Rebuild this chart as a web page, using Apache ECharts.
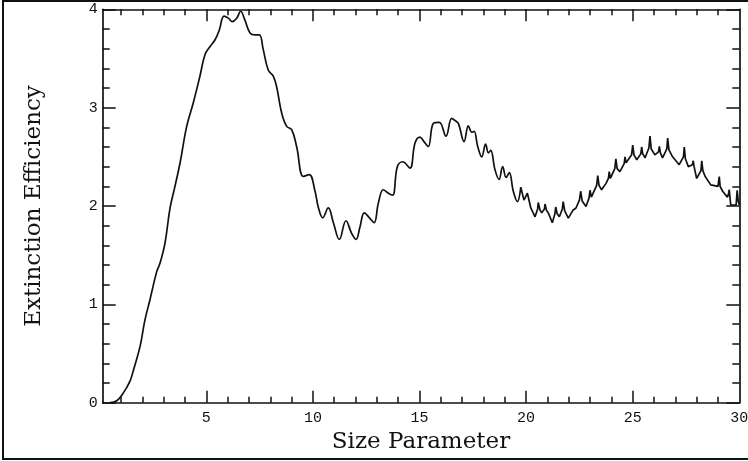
<!DOCTYPE html>
<html>
<head>
<meta charset="utf-8">
<script src="https://cdn.jsdelivr.net/npm/echarts@6/dist/echarts.min.js"></script>
<style>
  html, body { margin: 0; padding: 0; background: #fff; }
  #chart { width: 748px; height: 461px; }
</style>
</head>
<body>
<div id="chart"></div>
<script>
// smooth part of the curve (x < ~19.8)
var sizeA = [0.48, 0.8, 1.11, 1.42, 1.58, 1.89, 2.12, 2.36, 2.67, 2.83, 3.06, 3.30, 3.53, 3.77, 4.08, 4.39, 4.70, 4.94,
  5.17, 5.41, 5.61, 5.83, 6.03, 6.22, 6.43, 6.61, 6.81, 7.05, 7.28, 7.49, 7.67, 7.91, 8.14, 8.30, 8.54, 8.77,
  9.01, 9.24, 9.55, 9.83, 10.10, 10.25, 10.46, 10.72, 10.96, 11.24, 11.55, 11.82, 12.02, 12.21, 12.41, 12.65,
  12.87, 13.07, 13.30, 13.54, 13.74, 13.96, 14.21, 14.55, 14.79, 15.02, 15.21, 15.41, 15.65, 15.93, 16.24,
  16.51, 16.66, 16.82, 17.09, 17.29, 17.45, 17.56, 17.73, 17.92, 18.10, 18.23, 18.34, 18.54, 18.73, 18.90,
  19.06, 19.21, 19.40, 19.59, 19.75];
var qextA = [0.0, 0.02, 0.10, 0.22, 0.33, 0.57, 0.84, 1.05, 1.33, 1.42, 1.62, 1.98, 2.20, 2.44, 2.81, 3.05, 3.32, 3.54,
  3.62, 3.69, 3.79, 3.93, 3.91, 3.875, 3.91, 3.98, 3.89, 3.76, 3.74, 3.74, 3.59, 3.38, 3.32, 3.21, 2.94, 2.81,
  2.775, 2.60, 2.30, 2.32, 2.15, 1.99, 1.88, 1.98, 1.83, 1.66, 1.85, 1.72, 1.66, 1.79, 1.93, 1.88,
  1.83, 2.03, 2.165, 2.13, 2.11, 2.40, 2.45, 2.385, 2.64, 2.70, 2.655, 2.605, 2.84, 2.85, 2.71,
  2.89, 2.87, 2.84, 2.655, 2.815, 2.75, 2.76, 2.605, 2.50, 2.63, 2.54, 2.565, 2.37, 2.27, 2.40,
  2.29, 2.34, 2.15, 2.045, 2.19];

// spiky part of the curve (x > ~19.8)
var sizeB = [19.75, 19.90, 20.06, 20.22, 20.42, 20.54, 20.57, 20.65, 20.73, 20.86, 20.89, 20.95, 21.04, 21.23,
  21.35, 21.39, 21.46, 21.56, 21.70, 21.74, 21.81, 21.98, 22.21, 22.34, 22.50, 22.56, 22.63, 22.81, 22.95,
  23.00, 23.06, 23.15, 23.31, 23.36, 23.42, 23.54, 23.75, 23.86, 23.90, 23.95, 24.01, 24.16, 24.21, 24.27,
  24.40, 24.60, 24.64, 24.69, 24.75, 24.95, 25.00, 25.06, 25.19, 25.38, 25.42, 25.47, 25.58, 25.76, 25.81,
  25.87, 26.04, 26.21, 26.25, 26.30, 26.40, 26.60, 26.64, 26.70, 26.87, 27.18, 27.38, 27.42, 27.47, 27.61,
  27.80, 27.84, 27.88, 28.00, 28.20, 28.24, 28.29, 28.40, 28.66, 29.00, 29.06, 29.10, 29.22, 29.44, 29.50,
  29.53, 29.57, 29.60, 29.85, 29.90, 29.95, 30.00];
var qextB = [2.19, 2.06, 2.13, 1.98, 1.89, 1.97, 2.035, 1.96, 1.93, 1.97, 2.02, 1.96, 1.93, 1.83,
  1.92, 1.99, 1.92, 1.89, 1.97, 2.045, 1.95, 1.877, 1.96, 1.98, 2.06, 2.15, 2.05, 1.995, 2.08,
  2.16, 2.09, 2.08, 2.21, 2.31, 2.21, 2.165, 2.23, 2.28, 2.35, 2.28, 2.27, 2.38, 2.48, 2.38,
  2.35, 2.43, 2.50, 2.44, 2.42, 2.52, 2.62, 2.52, 2.47, 2.53, 2.60, 2.53, 2.49, 2.59, 2.71,
  2.58, 2.52, 2.55, 2.605, 2.54, 2.49, 2.58, 2.69, 2.57, 2.50, 2.42, 2.50, 2.60, 2.48, 2.40,
  2.42, 2.46, 2.40, 2.28, 2.36, 2.46, 2.36, 2.30, 2.215, 2.20, 2.30, 2.20, 2.15, 2.09, 2.13,
  2.165, 2.07, 2.01, 2.01, 2.16, 2.05, 2.01];

var xMinorTicks = [1, 2, 3, 4, 6, 7, 8, 9, 11, 12, 13, 14, 16, 17, 18, 19, 21, 22, 23, 24, 26, 27, 28, 29];
var xMajorTicks = [5, 10, 15, 20, 25];
var xLabels = [5, 10, 15, 20, 25, 30];

function pairs(xs, ys) {
  return xs.map(function (x, i) { return [x, ys[i]]; });
}

var ink = '#111';
var tickFont = { fontFamily: 'Liberation Mono', fontSize: 15, color: ink };
var nameFont = { fontFamily: 'DejaVu Serif', fontSize: 23, color: ink };

function xAxisCfg(pos, ticks, len, showLine, labels) {
  return {
    type: 'value', position: pos, min: 0.14, max: 30,
    axisLine: { show: showLine, lineStyle: { color: ink, width: 1.7 } },
    axisTick: { show: true, inside: true, length: len, customValues: ticks, lineStyle: { color: ink, width: 1.5 } },
    axisLabel: labels ? Object.assign({ customValues: labels, margin: 8 }, tickFont) : { show: false },
    splitLine: { show: false }
  };
}

function yAxisCfg(pos, showLabel) {
  return {
    type: 'value', position: pos, min: 0, max: 4, interval: 1,
    axisLine: { show: true, lineStyle: { color: ink, width: 1.7 } },
    axisTick: { show: true, inside: true, length: 13, lineStyle: { color: ink, width: 1.5 } },
    minorTick: { show: true, splitNumber: 5, length: 7, lineStyle: { color: ink, width: 1.5 } },
    axisLabel: showLabel ? Object.assign({ margin: 5 }, tickFont) : { show: false },
    splitLine: { show: false }
  };
}

var chart = echarts.init(document.getElementById('chart'));

var xBottom = xAxisCfg('bottom', xMinorTicks, 6, true, xLabels);
xBottom.name = 'Size Parameter';
xBottom.nameLocation = 'middle';
xBottom.nameGap = 28;
xBottom.nameTextStyle = nameFont;

var yLeft = yAxisCfg('left', true);
yLeft.name = 'Extinction Efficiency';
yLeft.nameLocation = 'middle';
yLeft.nameGap = 57;
yLeft.nameTextStyle = nameFont;

chart.setOption({
  animation: false,
  backgroundColor: '#fff',
  grid: { left: 102.7, right: 8.7, top: 9.3, bottom: 58.3, containLabel: false, outerBoundsMode: 'none' },
  xAxis: [
    xBottom,
    xAxisCfg('bottom', xMajorTicks, 12, false, null),
    xAxisCfg('top', xMinorTicks, 6, true, null),
    xAxisCfg('top', xMajorTicks, 12, false, null)
  ],
  yAxis: [yLeft, yAxisCfg('right', false)],
  graphic: [{
    type: 'rect',
    shape: { x: 3, y: 1, width: 760, height: 458 },
    style: { fill: null, stroke: ink, lineWidth: 2 },
    silent: true
  }],
  series: [
    {
      type: 'line', xAxisIndex: 0, yAxisIndex: 0, smooth: 0.4, symbol: 'none',
      lineStyle: { color: ink, width: 1.7 }, data: pairs(sizeA, qextA)
    },
    {
      type: 'line', xAxisIndex: 0, yAxisIndex: 0, smooth: false, symbol: 'none',
      lineStyle: { color: ink, width: 1.7 }, data: pairs(sizeB, qextB)
    }
  ]
});
</script>
</body>
</html>
